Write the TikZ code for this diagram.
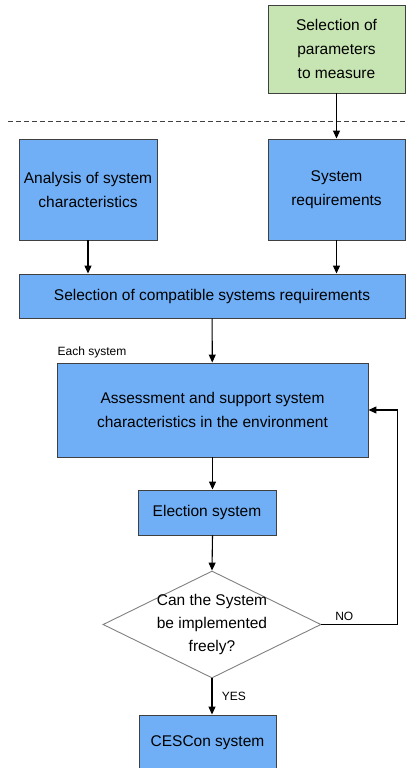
\documentclass[tikz,border=0pt]{standalone}
\usepackage{fontspec}
\setmainfont{Liberation Sans}
\usetikzlibrary{positioning, arrows.meta, shapes.geometric}
\definecolor{boxblue}{RGB}{112,175,246}
\definecolor{boxgreen}{RGB}{199,229,178}
\definecolor{edge}{RGB}{64,64,64}
\definecolor{rim}{RGB}{128,128,128}

\begin{document}
\begin{tikzpicture}[x=1pt, y=-1pt,
  proc/.style={draw=edge, fill=boxblue, line width=0.9pt, align=center, inner sep=1pt, font=\fontsize{15.5}{24}\selectfont},
  start/.style={proc, fill=boxgreen},
  dec/.style={diamond, draw=rim, fill=white, line width=0.9pt, inner sep=0pt},
  lab/.style={font=\fontsize{12}{14}\selectfont},
  arr/.style={-{Triangle[length=8pt,width=7pt]}, line width=1.1pt}]
\useasboundingbox (0,0) rectangle (406,768);
\node[start, minimum width=137, minimum height=88] (sel) at (336.5,49) {Selection of\\parameters\\to measure};
\draw[edge, line width=1pt, dash pattern=on 4.5pt off 3.5pt] (8,121) -- (406,121);
\node[proc, minimum width=138, minimum height=101] (ana) at (88,189.5) {Analysis of system\\characteristics};
\node[proc, minimum width=137, minimum height=101] (req) at (336.5,189.5) {System\\requirements};
\node[proc, minimum width=386, minimum height=44] (comp) at (212,296) {Selection of compatible systems requirements};
\node[lab] (each) at (92,352) {Each system};
\node[proc, minimum width=311, minimum height=94] (ass) at (212.5,410) {Assessment and support system\\characteristics in the environment};
\node[proc, minimum width=138, minimum height=45] (ele) at (207,512.5) {Election system};
\node[dec, minimum width=218, minimum height=107,
  label={[align=center, font=\fontsize{15.5}{23}\selectfont]center:{Can the System\\be implemented\\freely?}}] (ask) at (212,624.5) {};
\node[proc, minimum width=137, minimum height=60] (ces) at (207.5,745) {\raisebox{7pt}{CESCon system}};
% connectors
\draw[arr] (sel) -- (req);
\draw[arr] (ana.south) -- (ana.south |- comp.north);
\draw[arr] (req.south) -- (req.south |- comp.north);
\draw[arr] (comp) -- (ass);
\draw[arr] (ass.south) -- (ass.south |- ele.north);
\draw[arr] (ass.south |- ele.south) -- (ask.north);
\draw[arr] (ask.south) -- (ask.south |- ces.north) node[lab, midway, right=6pt] {YES};
\draw[arr] (ask.east) -- ++(76,0) node[lab, pos=0.3, above] {NO} |- (ass.east);
\end{tikzpicture}
\end{document}
